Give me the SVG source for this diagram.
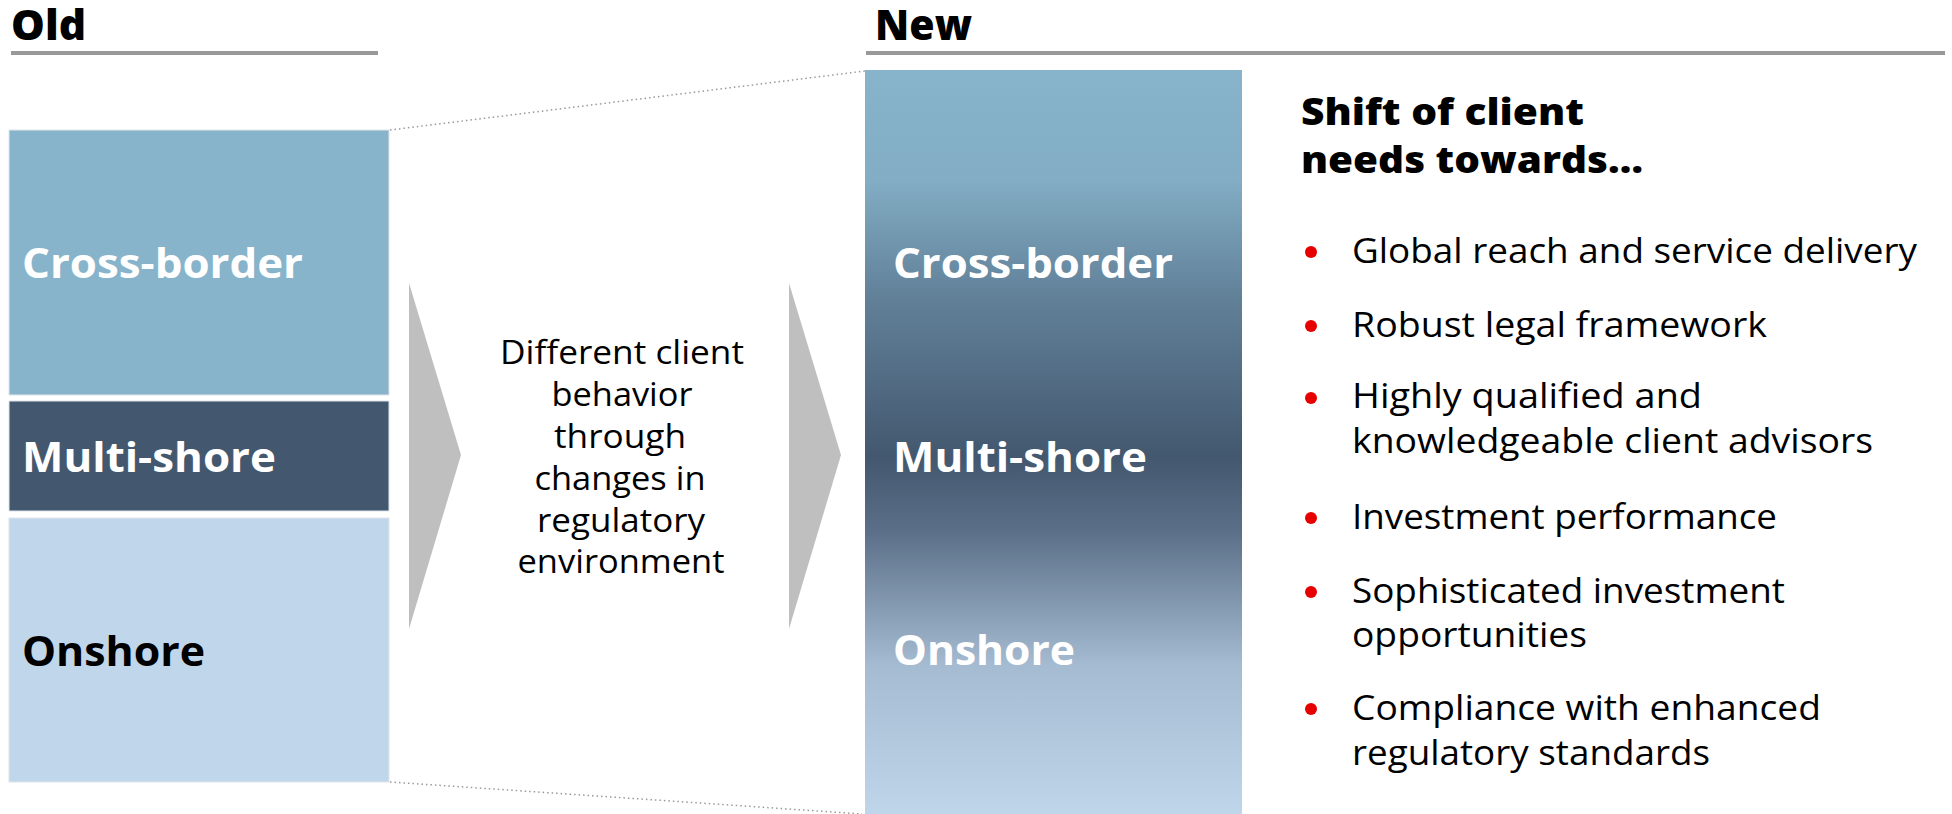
<svg xmlns="http://www.w3.org/2000/svg" width="1952" height="814" viewBox="0 0 1952 814">
  <defs>
    <linearGradient id="newGrad" x1="0" y1="70" x2="0" y2="814" gradientUnits="userSpaceOnUse">
      <stop offset="0" stop-color="#87b4cb"/>
      <stop offset="0.15" stop-color="#82adc4"/>
      <stop offset="0.3" stop-color="#62829a"/>
      <stop offset="0.52" stop-color="#43586f"/>
      <stop offset="0.62" stop-color="#5b7088"/>
      <stop offset="0.8" stop-color="#a5bbd1"/>
      <stop offset="1" stop-color="#bfd5ea"/>
    </linearGradient>
    <style>
      .title { font-family: "Open Sans", "Noto Sans", "Liberation Sans", sans-serif; font-weight: 800; font-size: 42px; fill: #000; }
      .label { font-family: "Open Sans", "Noto Sans", "Liberation Sans", sans-serif; font-weight: 700; font-size: 42px; }
      .mid { font-family: "Open Sans", "Noto Sans", "Liberation Sans", sans-serif; font-size: 32px; fill: #000; text-anchor: middle; }
      .head { font-family: "Open Sans", "Noto Sans", "Liberation Sans", sans-serif; font-weight: 800; font-size: 37px; fill: #000; }
      .item { font-family: "Open Sans", "Noto Sans", "Liberation Sans", sans-serif; font-size: 35px; fill: #000; }
      .rule { stroke: #999999; stroke-width: 4; }
      .dots { stroke: #999999; stroke-width: 1.5; stroke-dasharray: 1.5 3; fill: none; }
      .chev { fill: #bfbfbf; }
      .bullet { fill: #e60000; }
      .box { stroke: #dfe6ec; stroke-width: 1; }
    </style>
  </defs>

  <g id="old-header">
    <text class="title" x="11" y="40" textLength="75" lengthAdjust="spacingAndGlyphs">Old</text>
    <line class="rule" x1="11" y1="53" x2="378" y2="53"/>
  </g>
  <g id="new-header">
    <text class="title" x="875" y="40" textLength="97" lengthAdjust="spacingAndGlyphs">New</text>
    <line class="rule" x1="866" y1="53" x2="1945" y2="53"/>
  </g>

  <g id="connectors">
    <line class="dots" x1="390" y1="130" x2="865" y2="71"/>
    <line class="dots" x1="390" y1="782" x2="862" y2="814"/>
  </g>

  <g id="old-cross-border">
    <rect class="box" x="9" y="130" width="380" height="265" fill="#87b4cb"/>
    <text class="label" x="22" y="278" fill="#ffffff" textLength="281" lengthAdjust="spacingAndGlyphs">Cross-border</text>
  </g>
  <g id="old-multi-shore">
    <rect class="box" x="9" y="401" width="380" height="110" fill="#43586f"/>
    <text class="label" x="22" y="472" fill="#ffffff" textLength="254" lengthAdjust="spacingAndGlyphs">Multi-shore</text>
  </g>
  <g id="old-onshore">
    <rect class="box" x="9" y="518" width="380" height="264" fill="#c0d6ea"/>
    <text class="label" x="22" y="666" fill="#000000" textLength="183" lengthAdjust="spacingAndGlyphs">Onshore</text>
  </g>

  <g id="chevron-left">
    <polygon class="chev" points="409,283 461,455 409,629"/>
  </g>
  <g id="middle-text">
    <text class="mid" x="622" y="364" textLength="244" lengthAdjust="spacingAndGlyphs">Different client</text>
    <text class="mid" x="622" y="406" textLength="141" lengthAdjust="spacingAndGlyphs">behavior</text>
    <text class="mid" x="620" y="448" textLength="132" lengthAdjust="spacingAndGlyphs">through</text>
    <text class="mid" x="620" y="490" textLength="171" lengthAdjust="spacingAndGlyphs">changes in</text>
    <text class="mid" x="621" y="532" textLength="168" lengthAdjust="spacingAndGlyphs">regulatory</text>
    <text class="mid" x="621" y="573" textLength="207" lengthAdjust="spacingAndGlyphs">environment</text>
  </g>
  <g id="chevron-right">
    <polygon class="chev" points="789,283 841,455 789,629"/>
  </g>

  <g id="new-column">
    <rect x="865" y="70" width="377" height="744" fill="url(#newGrad)"/>
    <text class="label" x="893" y="278" fill="#ffffff" textLength="280" lengthAdjust="spacingAndGlyphs">Cross-border</text>
    <text class="label" x="893" y="472" fill="#ffffff" textLength="254" lengthAdjust="spacingAndGlyphs">Multi-shore</text>
    <text class="label" x="893" y="665" fill="#ffffff" textLength="182" lengthAdjust="spacingAndGlyphs">Onshore</text>
  </g>

  <g id="client-needs">
    <text class="head" x="1301" y="125" textLength="283" lengthAdjust="spacingAndGlyphs">Shift of client</text>
    <text class="head" x="1301" y="173" textLength="342" lengthAdjust="spacingAndGlyphs">needs towards…</text>

    <circle class="bullet" cx="1311" cy="252" r="6"/>
    <text class="item" x="1352" y="263" textLength="565" lengthAdjust="spacingAndGlyphs">Global reach and service delivery</text>

    <circle class="bullet" cx="1311" cy="326" r="6"/>
    <text class="item" x="1352" y="337" textLength="415" lengthAdjust="spacingAndGlyphs">Robust legal framework</text>

    <circle class="bullet" cx="1311" cy="398" r="6"/>
    <text class="item" x="1352" y="408" textLength="350" lengthAdjust="spacingAndGlyphs">Highly qualified and</text>
    <text class="item" x="1352" y="453" textLength="521" lengthAdjust="spacingAndGlyphs">knowledgeable client advisors</text>

    <circle class="bullet" cx="1311" cy="518" r="6"/>
    <text class="item" x="1352" y="529" textLength="425" lengthAdjust="spacingAndGlyphs">Investment performance</text>

    <circle class="bullet" cx="1311" cy="592" r="6"/>
    <text class="item" x="1352" y="603" textLength="433" lengthAdjust="spacingAndGlyphs">Sophisticated investment</text>
    <text class="item" x="1352" y="647" textLength="235" lengthAdjust="spacingAndGlyphs">opportunities</text>

    <circle class="bullet" cx="1311" cy="709" r="6"/>
    <text class="item" x="1352" y="720" textLength="469" lengthAdjust="spacingAndGlyphs">Compliance with enhanced</text>
    <text class="item" x="1352" y="765" textLength="358" lengthAdjust="spacingAndGlyphs">regulatory standards</text>
  </g>
</svg>
